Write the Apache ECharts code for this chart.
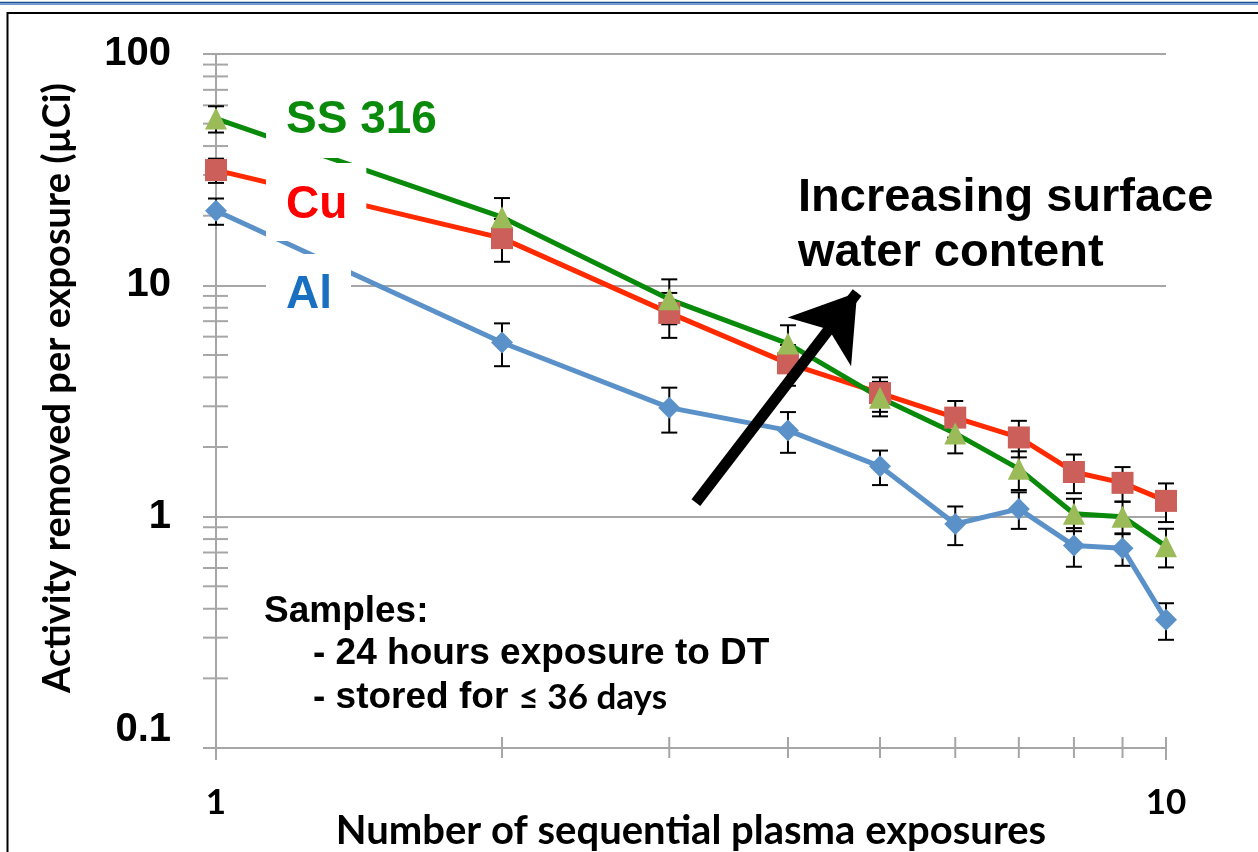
<!DOCTYPE html>
<html>
<head>
<meta charset="utf-8" />
<title>Activity removed per exposure</title>
<script src="https://cdn.jsdelivr.net/npm/echarts@6/dist/echarts.min.js"></script>
<style>
  html,
  body {
    margin: 0;
    padding: 0;
    background: #fff;
  }
  #chartBox {
    width: 1258px;
    height: 852px;
  }
</style>
</head>
<body>
<div id="chartBox"></div>
<script>
/* 横轴：第几次等离子体暴露 */
const exposureList = [1, 2, 3, 4, 5, 6, 7, 8, 9, 10];
/* 每次暴露去除的活度 (µCi) */
const ssList = [52.6, 19.7, 8.7, 5.6, 3.27, 2.29, 1.61, 1.03, 1.0, 0.745];
const cuList = [31.5, 16.0, 7.6, 4.6, 3.42, 2.68, 2.2, 1.56, 1.4, 1.17];
const alList = [21.0, 5.66, 2.96, 2.36, 1.65, 0.93, 1.08, 0.75, 0.73, 0.358];
/* 误差棒（相对误差） */
const ssErrList = [0.13, 0.21, 0.22, 0.2, 0.17, 0.18, 0.19, 0.16, 0.16, 0.19];
const cuErrList = [0.12, 0.21, 0.22, 0.2, 0.17, 0.18, 0.18, 0.19, 0.17, 0.19];
const alErrList = [0.13, 0.21, 0.22, 0.2, 0.17, 0.19, 0.18, 0.19, 0.16, 0.18];
/* 刻度 */
const yTickLabels = ["0.1", "1", "10", "100"];
const xTickLabels = ["1", "10"];
const minorSteps = [2, 3, 4, 5, 6, 7, 8, 9];
const yDecades = [0.1, 1, 10];
/* 箭头（数据坐标，终点即箭尖） */
const arrowFrom = [3.2, 1.15];
const arrowTo = [4.73, 9.3];

const arialFont = '"Liberation Sans", Arial, sans-serif';
const calibriFont = 'Lato, "Open Sans", sans-serif';
const axisGray = "#a6a6a6";

function toPoints(list) {
  return exposureList.map((x, i) => [x, list[i]]);
}

function toErrors(list, errList) {
  return exposureList.map((x, i) => [
    x,
    list[i] * (1 - errList[i]),
    list[i] * (1 + errList[i]),
  ]);
}

/* 误差棒绘制 */
function renderErrorBar(params, api) {
  const x = api.value(0);
  const top = api.coord([x, api.value(2)]);
  const bottom = api.coord([x, api.value(1)]);
  const half = 8;
  const style = { stroke: "#000", lineWidth: 2 };
  return {
    type: "group",
    children: [
      { type: "line", shape: { x1: top[0], y1: top[1], x2: bottom[0], y2: bottom[1] }, style },
      { type: "line", shape: { x1: top[0] - half, y1: top[1], x2: top[0] + half, y2: top[1] }, style },
      { type: "line", shape: { x1: bottom[0] - half, y1: bottom[1], x2: bottom[0] + half, y2: bottom[1] }, style },
    ],
  };
}

/* 次刻度（对数轴 2~9） */
const yMinorTicks = [];
yDecades.forEach((d) => minorSteps.forEach((s) => yMinorTicks.push([1, d * s])));
const xMinorTicks = minorSteps.map((s) => [s, 0.1]).concat([[10, 0.1]]);

function renderYTick(params, api) {
  const p = api.coord([api.value(0), api.value(1)]);
  return {
    type: "line",
    shape: { x1: p[0] - 13, y1: p[1], x2: p[0] + 12, y2: p[1] },
    style: { stroke: axisGray, lineWidth: 2 },
  };
}

function renderXTick(params, api) {
  const p = api.coord([api.value(0), api.value(1)]);
  return {
    type: "line",
    shape: { x1: p[0], y1: p[1] - 11, x2: p[0], y2: p[1] + 10 },
    style: { stroke: axisGray, lineWidth: 2 },
  };
}

function lineSeries(name, list, color, lineColor, symbol, extra) {
  return Object.assign(
    {
      name: name,
      type: "line",
      data: toPoints(list),
      symbol: symbol,
      symbolSize: 22,
      clip: false,
      animation: false,
      itemStyle: { color: color, opacity: 1 },
      lineStyle: { color: lineColor, width: 5 },
      emphasis: { disabled: true },
      z: 3,
    },
    extra || {}
  );
}

function labelBox(text, color, top, padding) {
  return {
    type: "text",
    x: 266,
    y: top,
    z: 100,
    style: {
      text: text,
      fill: color,
      fontSize: 46,
      fontWeight: "bold",
      fontFamily: arialFont,
      lineHeight: 46,
      align: "left",
      verticalAlign: "top",
      backgroundColor: "#fff",
      padding: padding,
    },
  };
}

function plainText(text, x, y, size, extra) {
  return {
    type: "text",
    x: x,
    y: y,
    z: 100,
    style: Object.assign(
      {
        text: text,
        fill: "#000",
        fontSize: size,
        fontWeight: "bold",
        fontFamily: arialFont,
        align: "left",
        verticalAlign: "middle",
      },
      extra || {}
    ),
  };
}

const option = {
  backgroundColor: "#fff",
  animation: false,
  grid: { left: 216, right: 92, top: 54, bottom: 104, outerBoundsMode: "none" },
  xAxis: {
    type: "log",
    logBase: 10,
    min: 1,
    max: 10,
    name: "Number of sequential plasma exposures",
    nameLocation: "middle",
    nameGap: 63,
    nameMoveOverlap: false,
    nameTextStyle: {
      color: "#000",
      fontSize: 40,
      fontWeight: "bold",
      fontFamily: calibriFont,
    },
    axisLine: { show: true, lineStyle: { color: axisGray, width: 2 } },
    axisTick: { show: true, length: 12, lineStyle: { color: axisGray, width: 2 } },
    splitLine: { show: false },
    axisLabel: {
      margin: 37,
      color: "#000",
      fontSize: 35,
      fontWeight: "bold",
      fontFamily: calibriFont,
      formatter: (v) => xTickLabels[Math.round(Math.log10(v))],
    },
  },
  yAxis: {
    type: "log",
    logBase: 10,
    min: 0.1,
    max: 100,
    axisLine: { show: true, lineStyle: { color: axisGray, width: 2 } },
    axisTick: { show: true, length: 13, lineStyle: { color: axisGray, width: 2 } },
    splitLine: { show: true, lineStyle: { color: axisGray, width: 2 } },
    axisLabel: {
      margin: 45,
      color: "#000",
      fontSize: 40,
      fontWeight: "bold",
      fontFamily: arialFont,
      formatter: (v) => {
        const text = yTickLabels[Math.round(Math.log10(v)) + 1];
        return v < 0.5 ? "{low|" + text + "}" : text;
      },
      rich: {
        low: {
          fontSize: 40,
          fontWeight: "bold",
          fontFamily: arialFont,
          color: "#000",
          padding: [0, 0, 36, 0],
        },
      },
    },
  },
  series: [
    {
      type: "custom",
      renderItem: renderErrorBar,
      data: toErrors(alList, alErrList)
        .concat(toErrors(cuList, cuErrList))
        .concat(toErrors(ssList, ssErrList)),
      encode: { x: 0, y: [1, 2] },
      silent: true,
      z: 2,
    },
    lineSeries("Al", alList, "#5b91c9", "#5b91c9", "diamond"),
    lineSeries("Cu", cuList, "#cc5f5a", "#ff2a00", "rect"),
    lineSeries("SS 316", ssList, "#9bbb59", "#0a8a0a", "triangle", {
      markLine: {
        silent: true,
        animation: false,
        symbol: ["none", "arrow"],
        symbolSize: [60, 62],
        label: { show: false },
        emphasis: { disabled: true },
        lineStyle: { color: "#000", width: 11, type: "solid", opacity: 1 },
        data: [[{ coord: arrowFrom }, { coord: arrowTo }]],
      },
    }),
    {
      type: "custom",
      renderItem: renderYTick,
      data: yMinorTicks,
      encode: { x: 0, y: 1 },
      silent: true,
      z: 1,
    },
    {
      type: "custom",
      renderItem: renderXTick,
      data: xMinorTicks,
      encode: { x: 0, y: 1 },
      silent: true,
      z: 1,
    },
  ],
  graphic: [
    /* 页面边框 */
    { type: "rect", shape: { x: 0, y: 1.7, width: 1258, height: 1.7 }, style: { fill: "#1d4f91" }, z: 0 },
    { type: "rect", shape: { x: 0, y: 3.4, width: 1258, height: 1.6 }, style: { fill: "#6b9ad3" }, z: 0 },
    {
      type: "rect",
      shape: { x: 7.5, y: 13, width: 1300, height: 900 },
      style: { fill: "none", stroke: "#000", lineWidth: 2 },
      z: 0,
    },
    /* 系列标签 */
    labelBox("SS 316", "#0a8a0a", 81, [16, 20, 15, 20]),
    labelBox("Cu", "#ff0000", 163, [19, 19, 13, 20]),
    labelBox("Al", "#1a70c0", 254, [18, 19, 15, 20]),
    /* 注释文字 */
    plainText("Increasing surface", 798, 198, 47),
    plainText("water content", 798, 253, 47),
    plainText("Samples:", 264, 612, 37),
    plainText("- 24 hours exposure to DT", 313, 654, 37),
    plainText("- stored for {c|≤ 36 days}", 313, 698, 37, {
      rich: {
        c: {
          fontSize: 35,
          fontWeight: "bold",
          fontFamily: calibriFont,
          fill: "#000",
        },
      },
    }),
    /* 纵轴标题 */
    {
      type: "text",
      x: 58,
      y: 388,
      rotation: Math.PI / 2,
      z: 100,
      style: {
        text: "Activity removed per exposure (µCi)",
        fill: "#000",
        fontSize: 38,
        fontWeight: "bold",
        fontFamily: calibriFont,
        align: "center",
        verticalAlign: "middle",
      },
    },
  ],
};

const myChart = echarts.init(document.getElementById("chartBox"));
myChart.setOption(option);
window.addEventListener("resize", () => {
  myChart.resize();
});
</script>
</body>
</html>
